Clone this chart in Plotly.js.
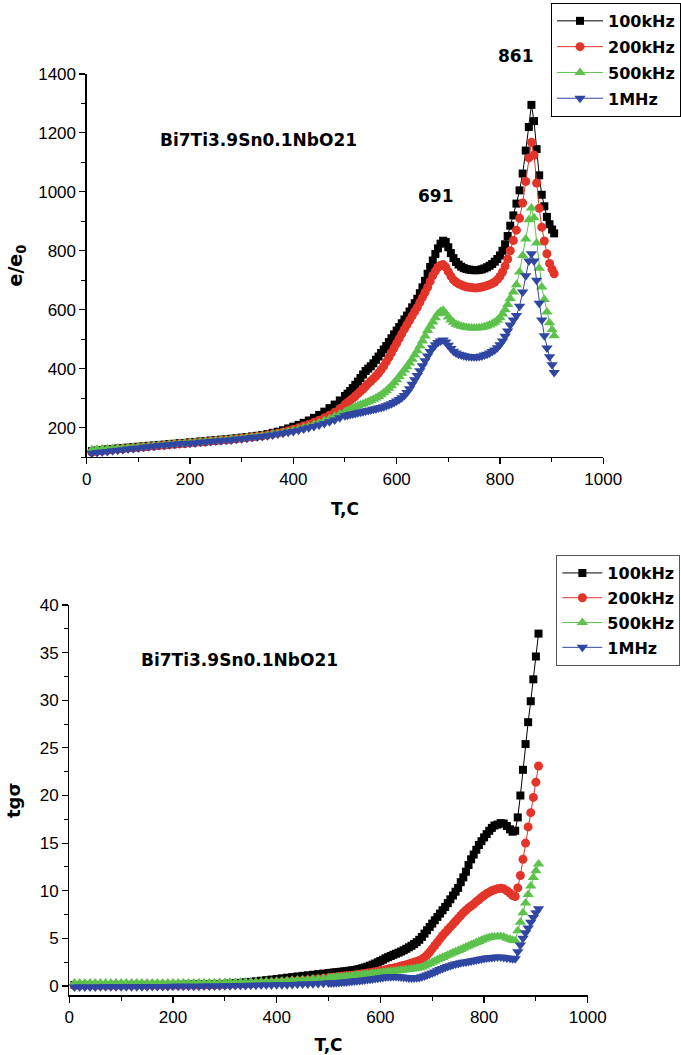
<!DOCTYPE html>
<html>
<head>
<meta charset="utf-8">
<script src="https://cdn.plot.ly/plotly-3.0.1.min.js"></script>
<style>html,body{margin:0;padding:0;background:#fff;}#chart{width:681px;height:1055px;}</style>
</head>
<body>
<div id="chart"></div>
<script>
// Temperatures (C)
var tempBase = [10,20,30,40,50,60,70,80,90,100,110,120,130,140,150,160,170,180,190,200,
210,220,230,240,250,260,270,280,290,300,310,320,330,340,350,360,370,380,390,400,
410,420,430,440,450,460,470,480,490,500,505,510,515,520,525,530,535,540,545,550,
555,560,565,570,575,580,585,590,595,600,605,610,615,620,625,630,635,640,645,650,
655,660,665,670,675,680,685,690,695,700,705,710,715,720,725,730,735,740,745,750,
755,760,765,770,775,780,785,790,795,800,805,810,815,820];
var tailTop = [826,832,838,844,850,856,861,866,871,876,881,886,891,896,901,905];
var tailBot = [826,832,838,844,850,855,860,865,870,875,880,885,890,895,900,905];

var seriesNames = ['100kHz','200kHz','500kHz','1MHz'];

// Top panel: e/e0
var eps100k = [120,122,124,126,127,129,130,132,133,135,
136,138,139,141,142,144,145,147,148,150,
151,153,154,156,157,159,160,162,164,166,
168,170,172,175,178,182,186,191,197,203,
209,216,224,233,243,254,266,278,292,307,
315,324,334,345,356,368,380,392,400,408,
418,430,441,453,465,477,490,503,516,529,
541,554,567,580,594,608,622,637,656,676,
698,722,745,767,789,808,824,834,830,812,
792,775,762,753,746,741,738,736,735,734,
734,735,737,740,744,749,755,763,772,784,
800,822,850,885,
920,960,1005,1062,1140,1220,1295,1240,1145,1056,990,951,915,890,872,859];
var eps200k = [117,119,121,123,125,127,128,130,131,133,
134,136,137,139,140,142,143,145,146,148,
149,151,152,154,155,157,158,160,162,164,
166,168,170,172,175,178,181,185,189,194,
199,205,211,218,225,233,242,252,264,278,
285,292,299,307,315,323,331,340,349,358,
366,375,385,396,409,423,438,454,470,486,
502,518,534,549,564,579,594,608,625,642,
659,676,696,716,731,744,751,753,745,729,
714,701,694,688,684,680,678,676,675,674,
674,675,677,679,682,685,689,694,702,713,
728,748,772,800,
835,870,910,962,1035,1115,1168,1125,1030,944,880,833,790,757,737,722];
var eps500k = [125,126,127,128,129,130,131,132,133,135,
136,137,139,140,141,143,144,146,147,149,
150,152,153,155,156,158,159,161,162,164,
166,168,170,172,174,177,180,183,186,190,
194,199,204,210,216,223,230,238,246,254,
258,262,266,270,274,277,280,284,288,292,
296,300,305,311,318,325,333,342,352,362,
373,384,395,406,419,432,446,461,477,494,
511,529,544,558,573,586,594,598,588,575,
565,557,551,547,544,542,540,539,538,538,
538,539,540,542,545,548,552,557,564,573,
585,600,618,638,
660,685,728,784,840,905,945,912,826,741,677,635,592,556,532,512];
var eps1M = [113,115,117,119,121,123,125,127,129,131,
133,135,137,139,140,142,143,145,146,147,
148,150,151,153,154,155,157,158,160,162,
164,166,168,170,172,175,178,181,184,187,
191,195,199,204,209,214,220,226,233,240,
242,244,246,248,250,252,254,256,258,260,
262,264,266,268,271,274,277,281,285,290,
295,301,309,319,332,347,362,377,393,410,
427,443,458,471,481,489,494,497,490,479,
468,459,453,449,446,444,442,441,440,440,
440,441,443,446,449,453,458,463,471,481,
494,510,528,548,
565,580,612,660,715,765,790,765,700,622,565,512,470,440,413,387];

// Bottom panel: tg
var tg100k = [0.10,0.10,0.10,0.10,0.10,0.10,0.10,0.10,0.10,0.10,
0.11,0.11,0.11,0.11,0.11,0.11,0.11,0.11,0.11,0.11,
0.12,0.13,0.14,0.15,0.16,0.17,0.18,0.19,0.20,0.22,
0.25,0.29,0.33,0.38,0.43,0.49,0.55,0.61,0.67,0.73,
0.80,0.87,0.93,1.00,1.06,1.12,1.18,1.24,1.30,1.36,
1.38,1.41,1.44,1.47,1.50,1.53,1.56,1.60,1.64,1.68,
1.73,1.79,1.86,1.94,2.03,2.13,2.24,2.36,2.49,2.62,
2.76,2.90,3.03,3.15,3.27,3.38,3.50,3.62,3.75,3.90,
4.06,4.22,4.40,4.60,4.85,5.15,5.50,5.85,6.20,6.55,
6.90,7.25,7.60,7.95,8.30,8.70,9.10,9.50,9.90,10.30,
10.90,11.40,12.00,12.70,13.30,13.80,14.30,14.80,15.20,15.60,
15.95,16.30,16.60,16.85,
16.95,17.10,17.05,16.80,16.45,16.20,16.30,17.70,20.00,22.70,25.40,27.70,29.90,32.20,34.60,37.00];
var tg200k = [0.05,0.05,0.05,0.05,0.05,0.05,0.05,0.05,0.05,0.05,
0.06,0.06,0.06,0.06,0.06,0.06,0.06,0.06,0.06,0.06,
0.07,0.07,0.08,0.08,0.09,0.09,0.10,0.11,0.12,0.13,
0.15,0.17,0.19,0.21,0.23,0.26,0.29,0.32,0.35,0.38,
0.42,0.46,0.50,0.54,0.58,0.63,0.68,0.74,0.80,0.86,
0.89,0.92,0.95,0.98,1.01,1.04,1.07,1.10,1.13,1.16,
1.20,1.24,1.28,1.32,1.36,1.40,1.45,1.50,1.55,1.60,
1.65,1.71,1.77,1.83,1.89,1.95,2.02,2.09,2.16,2.24,
2.32,2.40,2.48,2.57,2.67,2.80,3.00,3.25,3.55,3.90,
4.25,4.60,4.95,5.30,5.60,5.90,6.20,6.50,6.80,7.10,
7.40,7.70,7.95,8.20,8.40,8.60,8.85,9.05,9.30,9.50,
9.70,9.85,10.00,10.10,
10.20,10.25,10.20,10.00,9.75,9.50,9.40,10.30,11.60,13.30,15.00,16.70,18.20,19.80,21.40,23.10];
var tg500k = [0.30,0.30,0.30,0.30,0.30,0.30,0.30,0.30,0.30,0.30,
0.30,0.30,0.30,0.30,0.30,0.30,0.30,0.30,0.30,0.30,
0.31,0.31,0.32,0.32,0.33,0.33,0.34,0.35,0.36,0.37,
0.38,0.39,0.40,0.41,0.42,0.43,0.44,0.46,0.48,0.50,
0.53,0.56,0.59,0.62,0.65,0.68,0.72,0.76,0.80,0.85,
0.87,0.89,0.91,0.93,0.95,0.98,1.00,1.03,1.06,1.09,
1.12,1.15,1.18,1.21,1.24,1.27,1.30,1.33,1.36,1.40,
1.43,1.46,1.49,1.52,1.55,1.58,1.61,1.64,1.67,1.70,
1.73,1.77,1.81,1.86,1.92,2.00,2.10,2.22,2.35,2.48,
2.62,2.75,2.88,3.00,3.12,3.24,3.36,3.48,3.60,3.72,
3.84,3.96,4.08,4.20,4.32,4.44,4.56,4.68,4.80,4.90,
5.00,5.08,5.13,5.17,
5.20,5.20,5.15,5.00,4.90,4.80,4.75,5.80,6.70,7.70,8.70,9.60,10.50,11.40,12.10,12.80];
var tg1M = [-0.10,-0.10,-0.10,-0.10,-0.10,-0.09,-0.09,-0.09,-0.09,-0.08,
-0.08,-0.08,-0.07,-0.07,-0.07,-0.06,-0.06,-0.05,-0.05,-0.04,
-0.04,-0.03,-0.03,-0.02,-0.02,-0.01,0.00,0.00,0.01,0.02,
0.03,0.04,0.05,0.06,0.07,0.08,0.09,0.10,0.11,0.12,
0.13,0.14,0.16,0.18,0.20,0.22,0.24,0.26,0.28,0.30,
0.31,0.33,0.35,0.37,0.39,0.41,0.43,0.46,0.49,0.52,
0.55,0.58,0.61,0.64,0.67,0.70,0.74,0.78,0.82,0.86,
0.90,0.93,0.96,0.98,1.00,1.00,0.98,0.95,0.92,0.88,
0.85,0.83,0.84,0.86,0.90,0.96,1.04,1.14,1.25,1.36,
1.48,1.60,1.72,1.83,1.94,2.04,2.13,2.22,2.30,2.37,
2.43,2.48,2.53,2.58,2.63,2.68,2.73,2.78,2.83,2.88,
2.93,2.97,3.00,3.02,
3.03,3.03,3.00,2.95,2.90,2.85,2.85,3.60,4.30,5.00,5.60,6.10,6.70,7.20,7.70,8.10];

var tTop = tempBase.concat(tailTop);
var tBot = tempBase.concat(tailBot);

var colors = ['#000000','#e3342a','#5dc24c','#2f46a2'];
var symbols = ['square','circle','triangle-up','triangle-down'];
var sizes = [8,9,10,10];
var topVals = [eps100k, eps200k, eps500k, eps1M];
var botVals = [tg100k, tg200k, tg500k, tg1M];

var traces = [];
for (var i = 0; i < 4; i++) {
  traces.push({
    type:'scatter', mode:'lines+markers', x:tTop, y:topVals[i], name:seriesNames[i],
    xaxis:'x', yaxis:'y', legend:'legend', legendgroup:'a'+i, cliponaxis:false,
    line:{color:colors[i], width:1}, marker:{symbol:symbols[i], size:sizes[i], color:colors[i]}
  });
}
for (var j = 0; j < 4; j++) {
  traces.push({
    type:'scatter', mode:'lines+markers', x:tBot, y:botVals[j], name:seriesNames[j],
    xaxis:'x2', yaxis:'y2', legend:'legend2', legendgroup:'b'+j, cliponaxis:false,
    line:{color:colors[j], width:1}, marker:{symbol:symbols[j], size:sizes[j], color:colors[j]}
  });
}

var tickFont = {family:'Liberation Sans, Arial, sans-serif', size:17, color:'#000'};
var boldFont = {family:'DejaVu Sans, sans-serif', size:16, color:'#000', weight:'bold'};
var annFont = {family:'DejaVu Sans, sans-serif', size:17, color:'#000', weight:'bold'};
function xAx(domain, anchor, standoff){
  return {domain:domain, anchor:anchor, range:[0,1000], dtick:200, tick0:0, showgrid:false, zeroline:false,
    showline:true, linecolor:'#000', linewidth:1.3, ticks:'outside', ticklen:6, tickwidth:1.2, tickcolor:'#000',
    tickfont:tickFont, minor:{ticks:'outside', dtick:100, ticklen:4, tickwidth:1, tickcolor:'#000'},
    title:{text:'<b>T,C</b>', font:{family:'DejaVu Sans, sans-serif', size:17, color:'#000'}, standoff:standoff}};
}
var layout = {
  width:681, height:1055, margin:{l:0,r:0,t:0,b:0}, paper_bgcolor:'#fff', plot_bgcolor:'rgba(0,0,0,0)',
  showlegend:true,
  xaxis: xAx([0.12775,0.88840],'y',15),
  yaxis: {domain:[0.5668,0.9299], anchor:'x', range:[100,1400], dtick:200, tick0:0, showgrid:false, zeroline:false,
    showline:true, linecolor:'#000', linewidth:1.3, ticks:'outside', ticklen:6, tickwidth:1.2, tickcolor:'#000',
    tickfont:tickFont, minor:{ticks:'outside', dtick:100, ticklen:4, tickwidth:1, tickcolor:'#000'},
    title:{text:'<b>e/e<sub>0</sub></b>', font:{family:'DejaVu Sans, sans-serif', size:19, color:'#000'}, standoff:10}},
  xaxis2: xAx([0.10206,0.86564],'y2',19),
  yaxis2: {domain:[0.0564,0.4265], anchor:'x2', range:[-1,40], dtick:5, tick0:0, showgrid:false, zeroline:false,
    showline:true, linecolor:'#000', linewidth:1.3, ticks:'outside', ticklen:6, tickwidth:1.2, tickcolor:'#000',
    tickfont:tickFont, minor:{ticks:'outside', dtick:2.5, ticklen:4, tickwidth:1, tickcolor:'#000'},
    title:{text:'<b>tgσ</b>', font:{family:'DejaVu Sans, sans-serif', size:18, color:'#000'}, standoff:14}},
  legend: {x:0.812, y:0.9972, xanchor:'left', yanchor:'top', bgcolor:'#fff', bordercolor:'#000', borderwidth:1,
    font:boldFont, traceorder:'grouped', tracegroupgap:2, itemwidth:46},
  legend2: {x:0.8194, y:0.4739, xanchor:'left', yanchor:'top', bgcolor:'#fff', bordercolor:'#555', borderwidth:1,
    font:boldFont, traceorder:'grouped', tracegroupgap:1, itemwidth:40},
  annotations: [
    {xref:'paper', yref:'paper', x:259/681, y:1-140/1055, text:'<b>Bi7Ti3.9Sn0.1NbO21</b>', showarrow:false, font:annFont, xanchor:'center', yanchor:'middle'},
    {xref:'paper', yref:'paper', x:437/681, y:1-196/1055, text:'<b>691</b>', showarrow:false, font:annFont, xanchor:'center', yanchor:'middle'},
    {xref:'paper', yref:'paper', x:518/681, y:1-56/1055, text:'<b>861</b>', showarrow:false, font:annFont, xanchor:'center', yanchor:'middle'},
    {xref:'paper', yref:'paper', x:240/681, y:1-660/1055, text:'<b>Bi7Ti3.9Sn0.1NbO21</b>', showarrow:false, font:annFont, xanchor:'center', yanchor:'middle'}
  ]
};
Plotly.newPlot('chart', traces, layout, {displayModeBar:false, staticPlot:true});
</script>
</body>
</html>
